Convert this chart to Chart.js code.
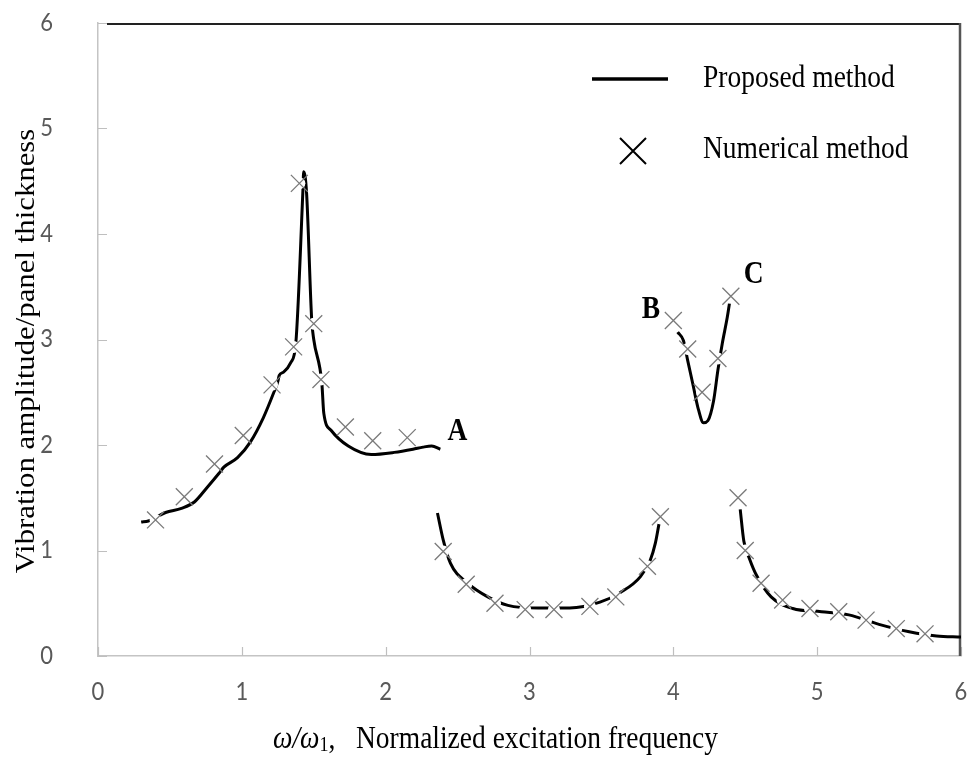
<!DOCTYPE html>
<html>
<head>
<meta charset="utf-8">
<script src="https://cdn.jsdelivr.net/npm/chart.js@4"></script>
<style>
html,body{margin:0;padding:0;background:#fff;}
canvas{display:block;}
</style>
</head>
<body>
<canvas id="c" width="969" height="760"></canvas>
<script>
// Proposed method curve (null = break between branches)
const lineX = [0.30,0.35,0.47,0.58,0.67,0.76,0.84,0.875,0.97,1.06,1.15,1.22,1.25,1.26,1.29,1.34,1.375,1.424,1.43,1.45,1.486,1.50,1.556,1.57,1.62,1.74,1.90,2.06,2.19,2.26,2.32,2.38,
  null,
  2.36,2.40,2.45,2.57,2.71,2.85,3.06,3.28,3.49,3.63,3.77,3.84,3.875,3.90,
  null,
  4.03,4.07,4.10,4.14,4.17,4.21,4.24,4.28,4.31,4.34,4.375,4.39,
  null,
  4.465,4.49,4.53,4.58,4.68,4.83,5.03,5.22,5.43,5.64,5.83,6.00];
const lineY = [1.27,1.28,1.36,1.40,1.46,1.60,1.73,1.79,1.88,2.03,2.26,2.49,2.60,2.66,2.69,2.78,2.96,4.39,4.59,4.39,3.18,3.00,2.59,2.30,2.14,1.99,1.91,1.93,1.96,1.98,1.99,1.96,
  null,
  1.355,1.10,0.88,0.69,0.56,0.48,0.455,0.455,0.51,0.60,0.75,0.91,1.07,1.25,
  null,
  3.07,2.99,2.80,2.55,2.36,2.21,2.23,2.42,2.71,2.96,3.21,3.34,
  null,
  1.39,1.09,0.92,0.76,0.56,0.45,0.42,0.39,0.30,0.23,0.19,0.18];

// Numerical method points
const numX = [0.40,0.60,0.81,1.01,1.21,1.36,1.40,1.50,1.55,1.72,1.91,2.15,2.40,2.56,2.76,2.97,3.17,3.42,3.60,3.82,3.91,4.00,4.10,4.20,4.31,4.40,4.45,4.50,4.61,4.76,4.95,5.15,5.34,5.55,5.75];
const numY = [1.29,1.51,1.82,2.09,2.57,2.93,4.48,3.15,2.62,2.17,2.04,2.07,0.99,0.68,0.50,0.44,0.44,0.47,0.56,0.85,1.32,3.18,2.91,2.50,2.82,3.41,1.50,1.00,0.69,0.53,0.45,0.42,0.34,0.26,0.21];

const xTicks = [0,1,2,3,4,5,6];
const yTicks = [0,1,2,3,4,5,6];

const seriesNames = ['Proposed method','Numerical method'];
const annotations = [
  {text:'A', x:2.43, y:2.12},
  {text:'B', x:3.78, y:3.28},
  {text:'C', x:4.49, y:3.61}
];
const xTitle = {italic:'\u03C9/\u03C9', sub:'1', rest:',   Normalized excitation frequency'};
const yTitle = 'Vibration amplitude/panel thickness';

const linePts = lineX.map((x,i)=> x===null ? {x:NaN,y:null} : {x:x, y:lineY[i]});
const numPts = numX.map((x,i)=>({x:x, y:numY[i]}));

const SERIF = '"Liberation Serif","Times New Roman",serif';
const STRETCH = 1.12;

function stretchedText(ctx, text, x, y, font, align, baseline, color){
  ctx.save();
  ctx.font = font;
  ctx.fillStyle = color || '#000';
  ctx.textAlign = align || 'left';
  ctx.textBaseline = baseline || 'middle';
  ctx.translate(x, y);
  ctx.scale(1, STRETCH);
  ctx.fillText(text, 0, 0);
  ctx.restore();
}

const decor = {
  id:'decor',
  beforeDatasetsDraw(chart){
    const {ctx, chartArea:a, scales:{x, y}} = chart;
    ctx.save();
    // inner tick marks
    ctx.strokeStyle = '#bfbfbf';
    ctx.lineWidth = 1.2;
    ctx.beginPath();
    xTicks.forEach(v=>{ const px = Math.round(x.getPixelForValue(v))+0.5; ctx.moveTo(px, a.bottom); ctx.lineTo(px, a.bottom-9); });
    yTicks.forEach(v=>{ const py = Math.round(y.getPixelForValue(v))+0.5; ctx.moveTo(a.left, py); ctx.lineTo(a.left+9, py); });
    ctx.stroke();
    // top and right frame
    ctx.strokeStyle = '#222';
    ctx.lineWidth = 2;
    ctx.beginPath();
    ctx.moveTo(a.left+9, a.top+1); ctx.lineTo(a.right, a.top+1);
    ctx.stroke();
    ctx.strokeStyle = '#555';
    ctx.lineWidth = 2.5;
    ctx.beginPath();
    ctx.moveTo(a.right-1, a.top); ctx.lineTo(a.right-1, a.bottom);
    ctx.stroke();
    ctx.restore();
    // tick labels
    const tf = '22px Lato';
    xTicks.forEach(v=>{ stretchedText(ctx, String(v), x.getPixelForValue(v), a.bottom+36, tf, 'center', 'middle', '#595959'); });
    yTicks.forEach(v=>{ stretchedText(ctx, String(v), 53, y.getPixelForValue(v), tf, 'right', 'middle', '#595959'); });
  },
  afterDraw(chart){
    const {ctx, chartArea:a, scales:{x, y}} = chart;
    const f = '27.5px ' + SERIF;
    // legend
    ctx.save();
    ctx.strokeStyle = '#000';
    ctx.lineWidth = 3.5;
    ctx.beginPath(); ctx.moveTo(592, 79); ctx.lineTo(668, 79); ctx.stroke();
    ctx.lineWidth = 2;
    ctx.beginPath();
    ctx.moveTo(620, 138); ctx.lineTo(646, 164);
    ctx.moveTo(646, 138); ctx.lineTo(620, 164);
    ctx.stroke();
    ctx.restore();
    stretchedText(ctx, seriesNames[0], 703, 79, f, 'left', 'middle');
    stretchedText(ctx, seriesNames[1], 703, 150, f, 'left', 'middle');
    // annotations
    annotations.forEach(an=>{
      stretchedText(ctx, an.text, x.getPixelForValue(an.x), y.getPixelForValue(an.y), 'bold 27.5px ' + SERIF, 'left', 'middle');
    });
    // x title
    ctx.save();
    let cx = 273, by = 740;
    ctx.font = 'italic 27.5px ' + SERIF;
    const w1 = ctx.measureText(xTitle.italic).width;
    stretchedText(ctx, xTitle.italic, cx, by, 'italic 27.5px ' + SERIF, 'left', 'middle');
    cx += w1;
    ctx.font = '18px ' + SERIF;
    const w2 = ctx.measureText(xTitle.sub).width;
    stretchedText(ctx, xTitle.sub, cx, by+6, '18px ' + SERIF, 'left', 'middle');
    cx += w2;
    stretchedText(ctx, xTitle.rest, cx, by, '27.5px ' + SERIF, 'left', 'middle');
    ctx.restore();
    // y title
    ctx.save();
    ctx.translate(27, 351);
    ctx.rotate(-Math.PI/2);
    ctx.scale(STRETCH, 1);
    ctx.font = '27.5px ' + SERIF;
    ctx.fillStyle = '#000';
    ctx.textAlign = 'center';
    ctx.textBaseline = 'middle';
    ctx.fillText(yTitle, 0, 0);
    ctx.restore();
  }
};

new Chart(document.getElementById('c'), {
  type:'scatter',
  data:{
    datasets:[
      {label:seriesNames[1], data:numPts, showLine:false, pointStyle:'crossRot', pointRadius:12, pointHoverRadius:12,
       borderColor:'#7a7a7a', backgroundColor:'#7a7a7a', pointBorderWidth:1.3, order:0},
      {label:'mask', data:numPts, showLine:false, pointStyle:'circle', pointRadius:6, pointHoverRadius:6,
       backgroundColor:'#ffffff', borderColor:'#ffffff', pointBorderWidth:0, order:1},
      {label:seriesNames[0], data:linePts, showLine:true, pointRadius:0, borderColor:'#000', borderWidth:3,
       cubicInterpolationMode:'monotone', spanGaps:false, order:2}
    ]
  },
  options:{
    responsive:false,
    animation:false,
    events:[],
    layout:{autoPadding:false, padding:{top:23, right:8, left:0, bottom:0}},
    plugins:{legend:{display:false}, tooltip:{enabled:false}},
    scales:{
      x:{type:'linear', min:0, max:6,
        afterBuildTicks(s){ s.ticks = xTicks.map(v=>({value:v})); },
        afterFit(s){ s.height = 104; },
        ticks:{display:false},
        grid:{display:false, drawTicks:false},
        border:{display:true, color:'#c4c4c4', width:1.5}},
      y:{type:'linear', min:0, max:6,
        afterBuildTicks(s){ s.ticks = yTicks.map(v=>({value:v})); },
        afterFit(s){ s.width = 98; },
        ticks:{display:false},
        grid:{display:false, drawTicks:false},
        border:{display:true, color:'#c4c4c4', width:1.5}}
    }
  },
  plugins:[decor]
});
</script>
</body>
</html>
